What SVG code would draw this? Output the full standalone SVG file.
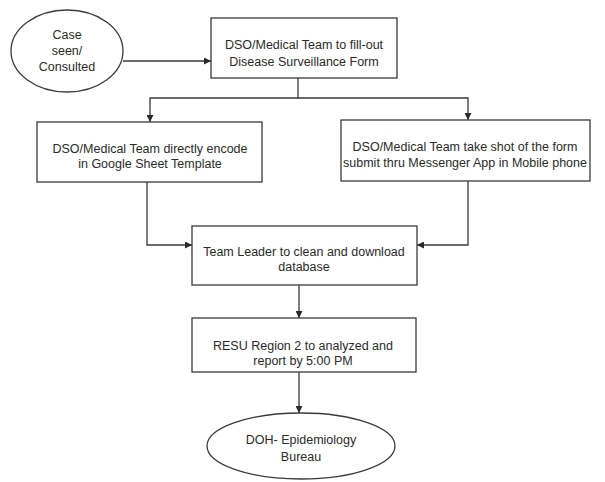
<svg xmlns="http://www.w3.org/2000/svg" width="605" height="482" viewBox="0 0 605 482">
<style>
.n{fill:#fff;stroke:#3a3a3a;stroke-width:1.3}
.t{font-family:"Liberation Sans",Arial,sans-serif;font-size:12.5px;fill:#2a2a2a;text-anchor:middle}
.c{fill:none;stroke:#3a3a3a;stroke-width:1.3}
</style>
<defs>
<marker id="a" viewBox="0 0 10 10" refX="10" refY="5" markerWidth="7" markerHeight="7" markerUnits="userSpaceOnUse" orient="auto"><path d="M0,0L10,5L0,10z" fill="#2a2a2a"/></marker>
</defs>
<rect width="605" height="482" fill="#fff"/>
<g id="connectors">
<path class="c" d="M123,61H211" marker-end="url(#a)"/>
<path class="c" d="M298,78V98H150V122" marker-end="url(#a)"/>
<path class="c" d="M298,98H468V120" marker-end="url(#a)"/>
<path class="c" d="M147,182V245H192" marker-end="url(#a)"/>
<path class="c" d="M468,181V245H417" marker-end="url(#a)"/>
<path class="c" d="M299,285V318" marker-end="url(#a)"/>
<path class="c" d="M299,372V413" marker-end="url(#a)"/>
</g>
<g id="case">
<ellipse class="n" cx="67" cy="51" rx="56" ry="41"/>
<text class="t" x="67" y="39">Case</text>
<text class="t" x="67" y="55">seen/</text>
<text class="t" x="67" y="71">Consulted</text>
</g>
<g id="form">
<rect class="n" x="211" y="18" width="186" height="60"/>
<text class="t" x="304" y="49">DSO/Medical Team to fill-out</text>
<text class="t" x="304" y="66">Disease Surveillance Form</text>
</g>
<g id="encode">
<rect class="n" x="37" y="122" width="225" height="60"/>
<text class="t" x="150" y="153">DSO/Medical Team directly encode</text>
<text class="t" x="150" y="168">in Google Sheet Template</text>
</g>
<g id="messenger">
<rect class="n" x="341" y="120" width="249" height="61"/>
<text class="t" x="465" y="151">DSO/Medical Team take shot of the form</text>
<text class="t" x="465" y="167">submit thru Messenger App in Mobile phone</text>
</g>
<g id="leader">
<rect class="n" x="192" y="226" width="225" height="59"/>
<text class="t" x="304" y="256">Team Leader to clean and download</text>
<text class="t" x="304" y="271">database</text>
</g>
<g id="resu">
<rect class="n" x="192" y="318" width="224" height="54"/>
<text class="t" x="303" y="350">RESU Region 2 to analyzed and</text>
<text class="t" x="303" y="365">report by 5:00 PM</text>
</g>
<g id="doh">
<ellipse class="n" cx="301" cy="446" rx="94" ry="33"/>
<text class="t" x="301" y="444">DOH- Epidemiology</text>
<text class="t" x="301" y="461">Bureau</text>
</g>
</svg>
